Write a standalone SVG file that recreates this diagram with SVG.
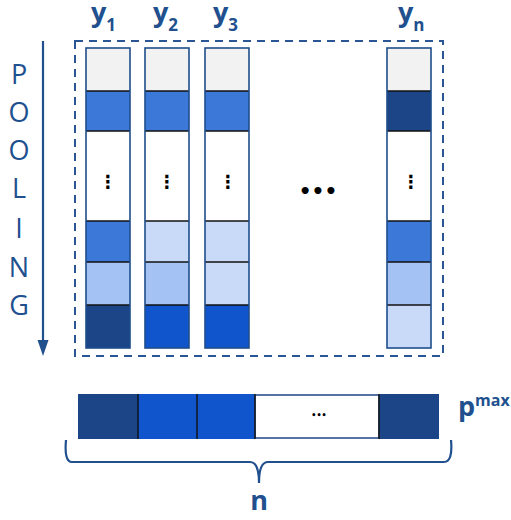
<svg xmlns="http://www.w3.org/2000/svg" width="511" height="520" viewBox="0 0 511 520">
  <style>
    .lbl { font-family: "Open Sans", Lato, sans-serif; font-weight: bold; fill: #21508f; }
    .pool { font-family: "Open Sans", Lato, sans-serif; font-size: 27px; fill: #21508f; text-anchor: middle; }
    .col { stroke: #1f4e8c; stroke-width: 1.6; fill: none; }
    .sep { stroke: #111; stroke-width: 1.4; }
    .vdots { font-family: "DejaVu Sans", sans-serif; font-weight: bold; font-size: 18px; fill: #000; text-anchor: middle; }
    .c0 { fill: #f2f2f2; } .c1 { fill: #3c78d8; } .c2 { fill: #1c4587; }
    .c3 { fill: #a4c2f4; } .c4 { fill: #c9daf8; } .c5 { fill: #1155cc; } .cw { fill: #ffffff; }
  </style>

  <!-- pooling direction -->
  <g id="pooling">
    <text class="pool" x="19" y="84">P</text>
    <text class="pool" x="19" y="122">O</text>
    <text class="pool" x="19" y="160">O</text>
    <text class="pool" x="19" y="198">L</text>
    <text class="pool" x="19" y="238">I</text>
    <text class="pool" x="19" y="277">N</text>
    <text class="pool" x="19" y="315">G</text>
  </g>
  <g id="connectors">
    <line x1="43" y1="41" x2="43" y2="342" stroke="#21508f" stroke-width="2.2"/>
    <polygon points="37.5,340 48.5,340 43,356" fill="#21508f"/>
  </g>

  <!-- dashed frame around the columns -->
  <rect id="frame" x="75" y="41" width="368" height="315" fill="none" stroke="#2a5696" stroke-width="2" stroke-dasharray="8,6"/>

  <!-- column y1 -->
  <g id="col-y1">
    <rect class="c0" x="86" y="48" width="44" height="43"/>
    <rect class="c1" x="86" y="91" width="44" height="40"/>
    <rect class="cw" x="86" y="131" width="44" height="90"/>
    <rect class="c1" x="86" y="221" width="44" height="41"/>
    <rect class="c3" x="86" y="262" width="44" height="43"/>
    <rect class="c2" x="86" y="305" width="44" height="43"/>
    <line class="sep" x1="86" y1="91" x2="130" y2="91"/>
    <line class="sep" x1="86" y1="131" x2="130" y2="131"/>
    <line class="sep" x1="86" y1="221" x2="130" y2="221"/>
    <line class="sep" x1="86" y1="262" x2="130" y2="262"/>
    <line class="sep" x1="86" y1="305" x2="130" y2="305"/>
    <rect class="col" x="86" y="48" width="44" height="300"/>
    <text class="vdots" x="108" y="188">⋮</text>
    <text class="lbl" x="91" y="22" font-size="27">y<tspan font-size="17" dy="9">1</tspan></text>
  </g>

  <!-- column y2 -->
  <g id="col-y2">
    <rect class="c0" x="145" y="48" width="44" height="43"/>
    <rect class="c1" x="145" y="91" width="44" height="40"/>
    <rect class="cw" x="145" y="131" width="44" height="90"/>
    <rect class="c4" x="145" y="221" width="44" height="41"/>
    <rect class="c3" x="145" y="262" width="44" height="43"/>
    <rect class="c5" x="145" y="305" width="44" height="43"/>
    <line class="sep" x1="145" y1="91" x2="189" y2="91"/>
    <line class="sep" x1="145" y1="131" x2="189" y2="131"/>
    <line class="sep" x1="145" y1="221" x2="189" y2="221"/>
    <line class="sep" x1="145" y1="262" x2="189" y2="262"/>
    <line class="sep" x1="145" y1="305" x2="189" y2="305"/>
    <rect class="col" x="145" y="48" width="44" height="300"/>
    <text class="vdots" x="167" y="188">⋮</text>
    <text class="lbl" x="153" y="22" font-size="27">y<tspan font-size="17" dy="9">2</tspan></text>
  </g>

  <!-- column y3 -->
  <g id="col-y3">
    <rect class="c0" x="205" y="48" width="44" height="43"/>
    <rect class="c1" x="205" y="91" width="44" height="40"/>
    <rect class="cw" x="205" y="131" width="44" height="90"/>
    <rect class="c4" x="205" y="221" width="44" height="41"/>
    <rect class="c4" x="205" y="262" width="44" height="43"/>
    <rect class="c5" x="205" y="305" width="44" height="43"/>
    <line class="sep" x1="205" y1="91" x2="249" y2="91"/>
    <line class="sep" x1="205" y1="131" x2="249" y2="131"/>
    <line class="sep" x1="205" y1="221" x2="249" y2="221"/>
    <line class="sep" x1="205" y1="262" x2="249" y2="262"/>
    <line class="sep" x1="205" y1="305" x2="249" y2="305"/>
    <rect class="col" x="205" y="48" width="44" height="300"/>
    <text class="vdots" x="228" y="188">⋮</text>
    <text class="lbl" x="213" y="22" font-size="27">y<tspan font-size="17" dy="9">3</tspan></text>
  </g>

  <!-- gap between columns -->
  <text id="gap-dots" x="318" y="198" font-family="DejaVu Sans, sans-serif" font-weight="bold" font-size="20" fill="#000" text-anchor="middle">•••</text>

  <!-- column yn -->
  <g id="col-yn">
    <rect class="c0" x="387" y="48" width="44" height="43"/>
    <rect class="c2" x="387" y="91" width="44" height="40"/>
    <rect class="cw" x="387" y="131" width="44" height="90"/>
    <rect class="c1" x="387" y="221" width="44" height="41"/>
    <rect class="c3" x="387" y="262" width="44" height="43"/>
    <rect class="c4" x="387" y="305" width="44" height="43"/>
    <line class="sep" x1="387" y1="91" x2="431" y2="91"/>
    <line class="sep" x1="387" y1="131" x2="431" y2="131"/>
    <line class="sep" x1="387" y1="221" x2="431" y2="221"/>
    <line class="sep" x1="387" y1="262" x2="431" y2="262"/>
    <line class="sep" x1="387" y1="305" x2="431" y2="305"/>
    <rect class="col" x="387" y="48" width="44" height="300"/>
    <text class="vdots" x="411" y="188">⋮</text>
    <text class="lbl" x="398" y="22" font-size="27">y<tspan font-size="17" dy="9">n</tspan></text>
  </g>

  <!-- pooled vector -->
  <g id="pmax">
    <rect class="c2" x="78" y="394" width="60" height="45"/>
    <rect class="c5" x="138" y="394" width="59" height="45"/>
    <rect class="c5" x="197" y="394" width="58" height="45"/>
    <rect class="cw" x="255" y="395" width="124" height="43" stroke="#1c4587" stroke-width="1.5"/>
    <rect class="c2" x="379" y="394" width="60" height="45"/>
    <line class="sep" x1="138" y1="394" x2="138" y2="439"/>
    <line class="sep" x1="197" y1="394" x2="197" y2="439"/>
    <line class="sep" x1="255" y1="394" x2="255" y2="439"/>
    <line class="sep" x1="379" y1="394" x2="379" y2="439"/>
    <text x="319" y="418" font-family="DejaVu Sans, sans-serif" font-weight="bold" font-size="8" fill="#000" text-anchor="middle">•••</text>
    <text class="lbl" x="458" y="416" font-size="27">p<tspan font-size="16" dy="-10">max</tspan></text>
  </g>

  <!-- brace spanning n entries -->
  <g id="brace">
    <path d="M66,440 Q64,462 72,462 L250,462 Q259,462 259,483 Q259,462 268,462 L444,462 Q453,462 451,440" fill="none" stroke="#21508f" stroke-width="2.2"/>
    <text class="lbl" x="259" y="510" font-size="27" text-anchor="middle">n</text>
  </g>
</svg>
